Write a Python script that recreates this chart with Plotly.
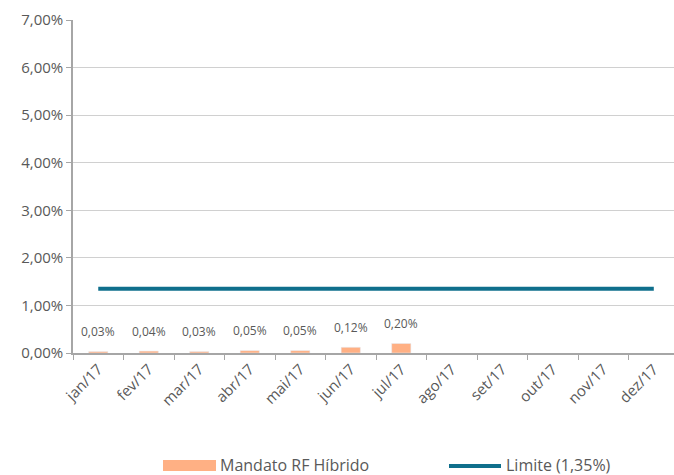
import plotly.graph_objects as go

months = ["jan/17", "fev/17", "mar/17", "abr/17", "mai/17", "jun/17",
          "jul/17", "ago/17", "set/17", "out/17", "nov/17", "dez/17"]
mandato = [0.03, 0.04, 0.03, 0.05, 0.05, 0.12, 0.20]
limite = [1.35] * 12
bar_labels = ["0,03%", "0,04%", "0,03%", "0,05%", "0,05%", "0,12%", "0,20%"]

FONT = "Open Sans"
GREY = "#595959"
ORANGE = "#FFB084"
TEAL = "#0F6F8C"

fig = go.Figure()
fig.add_trace(go.Bar(x=months[:len(mandato)], y=mandato, marker_color=ORANGE,
                     width=0.38, name="Mandato RF Híbrido", showlegend=False))
fig.add_trace(go.Scatter(x=months, y=limite, mode="lines",
                         line=dict(color=TEAL, width=4), name="Limite (1,35%)",
                         showlegend=False))

for m, v, t in zip(months, mandato, bar_labels):
    fig.add_annotation(x=m, y=v, text=t, showarrow=False, yshift=20,
                       font=dict(family=FONT, size=12, color=GREY))

# custom legend
LEG_Y = -(465 - 353) / 333
fig.add_shape(type="rect", xref="paper", yref="paper",
              x0=(163 - 73) / 601, x1=(216 - 73) / 601,
              y0=-(460 - 353) / 333, y1=-(471 - 353) / 333,
              fillcolor=ORANGE, line_width=0)
fig.add_annotation(xref="paper", yref="paper", x=(219 - 73) / 601,
                   y=LEG_Y, text="Mandato RF Híbrido",
                   showarrow=False, xanchor="left", yanchor="middle", borderpad=0,
                   font=dict(family=FONT, size=16, color=GREY))
fig.add_shape(type="line", xref="paper", yref="paper",
              x0=(449 - 73) / 601, x1=(501 - 73) / 601,
              y0=-(466 - 353) / 333, y1=-(466 - 353) / 333,
              line=dict(color=TEAL, width=4))
fig.add_annotation(xref="paper", yref="paper", x=(505 - 73) / 601,
                   y=LEG_Y, text="Limite (1,35%)",
                   showarrow=False, xanchor="left", yanchor="middle", borderpad=0,
                   font=dict(family=FONT, size=16, color=GREY))

fig.update_layout(
    width=674, height=475,
    margin=dict(l=73, r=0, t=20, b=122),
    paper_bgcolor="white", plot_bgcolor="white",
    separators=",.",
    font=dict(family=FONT, color=GREY),
    bargap=0.6,
)
fig.update_xaxes(type="category", categoryorder="array", categoryarray=months,
                 range=[-0.5, 11.4], tickangle=-45, tickson="boundaries",
                 ticks="outside", ticklen=5, tickcolor="#A6A6A6",
                 showline=True, linecolor="#A6A6A6", linewidth=1.5,
                 showgrid=False, tickfont=dict(family=FONT, size=15, color=GREY))
fig.update_yaxes(range=[0, 7], dtick=1, tickformat=".2f", ticksuffix="%",
                 ticks="outside", ticklen=5, tickcolor="#A6A6A6",
                 showline=True, linecolor="#A6A6A6", linewidth=1.5,
                 gridcolor="#D0D0D0", gridwidth=1, zeroline=False,
                 tickfont=dict(family=FONT, size=15, color=GREY))

fig.write_html("out.html", config={"displayModeBar": False},
               post_script="document.body.style.margin='0';document.body.style.overflow='hidden';")
